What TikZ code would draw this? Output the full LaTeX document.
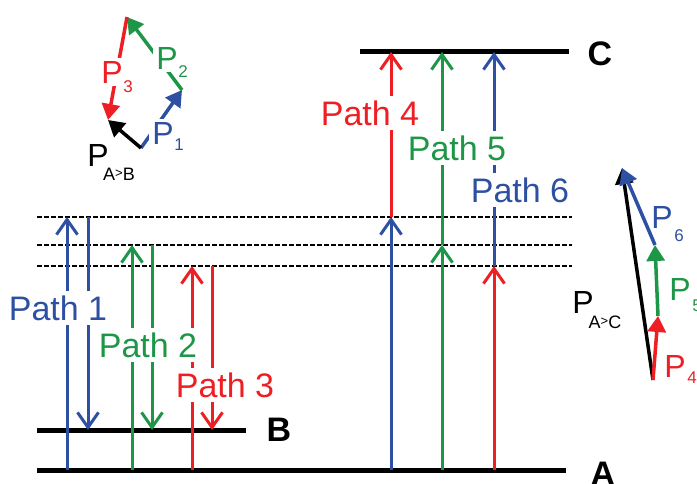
\documentclass[tikz,border=0pt]{standalone}
\usepackage{fontspec}
\setmainfont{Liberation Sans}
\usetikzlibrary{arrows.meta}
\definecolor{pblue}{RGB}{46,80,162}
\definecolor{pgreen}{RGB}{30,150,72}
\definecolor{pred}{RGB}{237,30,36}
\newcommand{\gt}{\raisebox{0.3ex}{\fontsize{13}{13}\selectfont >}}
\begin{document}
\begin{tikzpicture}[x=1pt,y=-1pt,
 level/.style={line width=5pt},
 virt/.style={line width=1.8pt, dash pattern=on 4.5pt off 2.5pt},
 trans/.style={line width=3pt, -{Straight Barb[length=15pt,width=21pt]}},
 vec/.style={line width=3.5pt, -{Triangle[length=16pt,width=18pt]}},
 pathlbl/.style={fill=white, inner xsep=1pt, inner ysep=5pt, font=\fontsize{34}{34}\selectfont},
 lvllbl/.style={inner sep=0pt, font=\fontsize{34}{34}\selectfont\bfseries},
 plbl/.style={fill=white, inner sep=3pt, font=\fontsize{32}{32}\selectfont},
 sublbl/.style={inner sep=0pt, font=\fontsize{17}{17}\selectfont}
]
\useasboundingbox (0,0) rectangle (697,484);

% energy levels
\coordinate (Al) at (37,470); \coordinate (Ar) at (566,470);
\coordinate (Bl) at (37,430); \coordinate (Br) at (246,430);
\coordinate (Cl) at (360,52); \coordinate (Cr) at (569,52);
\coordinate (V1l) at (37,217); \coordinate (V1r) at (572,217);
\coordinate (V2l) at (37,245); \coordinate (V2r) at (572,245);
\coordinate (V3l) at (37,266); \coordinate (V3r) at (572,266);
\draw[virt] (V1l) -- (V1r);
\draw[virt] (V2l) -- (V2r);
\draw[virt] (V3l) -- (V3r);
\draw[level] (Al) -- (Ar);
\draw[level] (Bl) -- (Br);
\draw[level] (Cl) -- (Cr);
\node[lvllbl] (labA) at (603,474) {A};
\node[lvllbl] (labB) at (279,430) {B};
\node[lvllbl] (labC) at (600,54) {C};

% left transitions
\coordinate (a1) at (67,470);  \coordinate (b1) at (67,217);
\coordinate (c1) at (88,217);  \coordinate (d1) at (88,430);
\coordinate (a2) at (132,470); \coordinate (b2) at (132,245);
\coordinate (c2) at (152,245); \coordinate (d2) at (152,430);
\coordinate (a3) at (192,470); \coordinate (b3) at (192,266);
\coordinate (c3) at (212,266); \coordinate (d3) at (212,430);
\draw[trans,pblue] (a1) -- (b1);
\draw[trans,pblue] (c1) -- (d1);
\draw[trans,pgreen] (a2) -- (b2);
\draw[trans,pgreen] (c2) -- (d2);
\draw[trans,pred] (a3) -- (b3);
\draw[trans,pred] (c3) -- (d3);

% right transitions
\coordinate (e4) at (391,470); \coordinate (f4) at (391,217); \coordinate (g4) at (391,52);
\coordinate (e5) at (442,470); \coordinate (f5) at (442,245); \coordinate (g5) at (442,52);
\coordinate (e6) at (494,470); \coordinate (f6) at (494,266); \coordinate (g6) at (494,52);
\draw[trans,pblue] (e4) -- (f4);
\draw[trans,pred] (f4) -- (g4);
\draw[trans,pgreen] (e5) -- (f5);
\draw[trans,pgreen] (f5) -- (g5);
\draw[trans,pred] (e6) -- (f6);
\draw[trans,pblue] (f6) -- (g6);

% path labels
\node[pathlbl,text=pblue] (path1) at (58,308) {Path 1};
\node[pathlbl,text=pgreen] (path2) at (148,345) {Path 2};
\node[pathlbl,text=pred] (path3) at (225,385) {Path 3};
\node[pathlbl,text=pred] (path4) at (370,113) {Path 4};
\node[pathlbl,text=pgreen] (path5) at (457,148) {Path 5};
\node[pathlbl,text=pblue] (path6) at (520,190) {Path 6};

% inset A -> B
\coordinate (s0) at (141,148);
\coordinate (s1) at (182,90);
\coordinate (s2) at (127,17);
\coordinate (s3) at (108,120);
\draw[vec,pblue] (s0) -- (s1);
\draw[vec,pgreen] (s1) -- (s2);
\draw[vec,pred] (s2) -- (s3);
\draw[vec,black] (s0) -- (s3);
\node[plbl,text=pred] (P3) at (112,72) {P};
\node[sublbl,text=pred] (P3s) at (128,87) {3};
\node[plbl,text=pgreen] (P2) at (167,58) {P};
\node[sublbl,text=pgreen] (P2s) at (183,72) {2};
\node[plbl,text=pblue] (P1) at (163,133) {P};
\node[sublbl,text=pblue] (P1s) at (179,145) {1};
\node[plbl,text=black,fill=none] (PAB) at (98,155) {P};
\node[sublbl,font=\fontsize{18}{18}\selectfont] (PABs) at (119,174) {A\gt B};

% inset A -> C
\coordinate (t0) at (653,380);
\coordinate (t1) at (658,316);
\coordinate (t2) at (655,245);
\coordinate (t3) at (622,168);
\draw[vec,black] (t0) -- (t3);
\draw[vec,pred] (t0) -- (t1);
\draw[vec,pgreen] (t1) -- (t2);
\draw[vec,pblue] (t2) -- (t3);
\node[plbl,text=pblue,fill=none] (P6) at (662,217) {P};
\node[sublbl,text=pblue] (P6s) at (679,236) {6};
\node[plbl,text=pgreen,fill=none] (P5) at (680,289) {P};
\node[sublbl,text=pgreen] (P5s) at (697,306) {5};
\node[plbl,text=pred,fill=none] (P4) at (675,366) {P};
\node[sublbl,text=pred] (P4s) at (692,378) {4};
\node[plbl,text=black,fill=none] (PAC) at (583,302) {P};
\node[sublbl,font=\fontsize{18}{18}\selectfont] (PACs) at (605,322) {A\gt C};
\end{tikzpicture}
\end{document}
